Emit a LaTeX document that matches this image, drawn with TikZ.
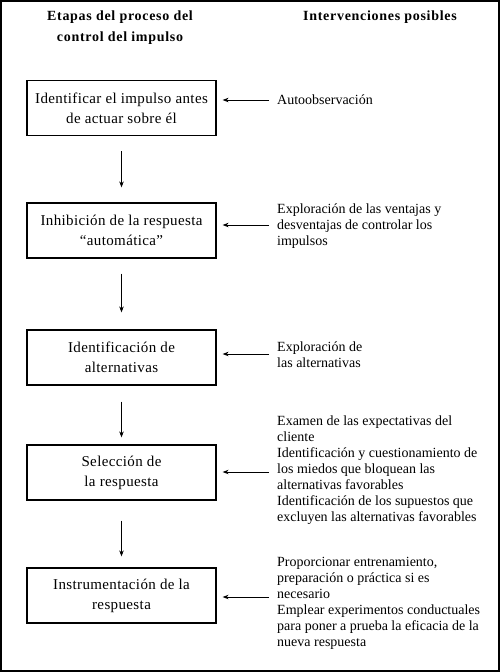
\documentclass[tikz,border=0pt]{standalone}
\usepackage{fontspec}
\setmainfont{Liberation Serif}
\newfontfamily\boxfont[LetterSpace=2.5]{Liberation Serif}
\newfontfamily\headfont[LetterSpace=5]{Liberation Serif}
\usetikzlibrary{arrows.meta}
\begin{document}
\begin{tikzpicture}[x=1pt,y=-1pt,
  stage/.style={draw,line width=1.2pt,minimum width=189pt,minimum height=55pt,inner sep=0pt,align=center,font=\boxfont\fontsize{15}{20}\selectfont},
  interv/.style={anchor=west,inner sep=0pt,align=left,font=\fontsize{14}{16}\selectfont},
  head/.style={align=center,inner sep=0pt,font=\headfont\bfseries\fontsize{14}{21}\selectfont},
  flow/.style={line width=0.8pt,-{Stealth[length=6pt,width=4.5pt]}}]
\useasboundingbox (0,0) rectangle (500,672);
\draw[line width=1.5pt] (1,1) rectangle (499,671);

\node[head] (h1) at (120,28) {Etapas del proceso del\\control del impulso};
\node[head] (h2) at (380,17) {Intervenciones posibles};

\node[stage] (b1) at (121.5,108) {Identificar el impulso antes\\de actuar sobre él};
\node[stage] (b2) at (121.5,230.5) {Inhibición de la respuesta\\“automática”};
\node[stage] (b3) at (121.5,357.5) {Identificación de\\alternativas};
\node[stage] (b4) at (121.5,472.5) {Selección de\\la respuesta};
\node[stage] (b5) at (121.5,595.5) {Instrumentación de la\\respuesta};

\draw[flow,shorten <=15pt,shorten >=15pt] (b1) -- (b2);
\draw[flow,shorten <=15pt,shorten >=17pt] (b2) -- (b3);
\draw[flow,shorten <=16pt,shorten >=7pt] (b3) -- (b4);
\draw[flow,shorten <=20pt,shorten >=11pt] (b4) -- (b5);

\node[interv] (t1) at (277,100) {Autoobservación};
\node[interv] (t2) at (277,226) {Exploración de las ventajas y\\desventajas de controlar los\\impulsos};
\node[interv] (t3) at (277,355) {Exploración de\\las alternativas};
\node[interv] (t4) at (277,470) {Examen de las expectativas del\\cliente\\Identificación y cuestionamiento de\\los miedos que bloquean las\\alternativas favorables\\Identificación de los supuestos que\\excluyen las alternativas favorables};
\node[interv] (t5) at (277,603) {Proporcionar entrenamiento,\\preparación o práctica si es\\necesario\\Emplear experimentos conductuales\\para poner a prueba la eficacia de la\\nueva respuesta};

\coordinate (a1) at (269,100);
\coordinate (a2) at (269,225);
\coordinate (a3) at (269,354);
\coordinate (a4) at (269,472);
\coordinate (a5) at (269,597);
\draw[flow,shorten >=6pt] (a1) -- (b1.east |- a1);
\draw[flow,shorten >=6pt] (a2) -- (b2.east |- a2);
\draw[flow,shorten >=6pt] (a3) -- (b3.east |- a3);
\draw[flow,shorten >=6pt] (a4) -- (b4.east |- a4);
\draw[flow,shorten >=6pt] (a5) -- (b5.east |- a5);
\end{tikzpicture}
\end{document}
